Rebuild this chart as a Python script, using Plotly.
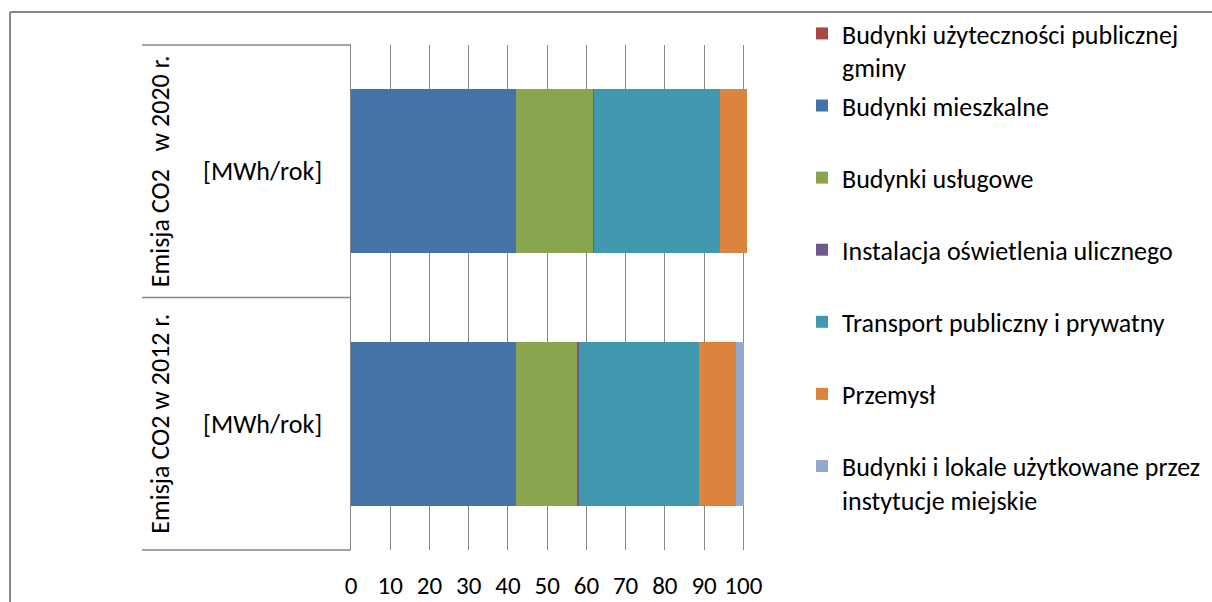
import plotly.graph_objects as go

categories = ["Emisja CO2 w 2012 r.", "Emisja CO2 \u00a0 w 2020 r."]
inner_labels = ["[MWh/rok]", "[MWh/rok]"]

series_names = [
    "Budynki użyteczności publicznej<br>gminy",
    "Budynki mieszkalne",
    "Budynki usługowe",
    "Instalacja oświetlenia ulicznego",
    "Transport publiczny i prywatny",
    "Przemysł",
    "Budynki i lokale użytkowane przez<br>instytucje miejskie",
]
series_colors = ["#AA4643", "#4572A7", "#89A54E", "#71588F", "#4198AF", "#DB843D", "#93A9CF"]
# values for [2012, 2020]
series_values = [
    [0.0, 0.0],
    [42.1, 42.1],
    [15.6, 19.6],
    [0.4, 0.3],
    [30.6, 32.1],
    [9.4, 6.9],
    [2.1, 0.0],
]
tick_vals = [0, 10, 20, 30, 40, 50, 60, 70, 80, 90, 100]

FONT = "Carlito, Calibri, Lato, sans-serif"
FS = 26

fig = go.Figure()
for i, (name, col, vals) in enumerate(zip(series_names, series_colors, series_values)):
    label = name if "<br>" in name else name + "<br>\u00a0"
    fig.add_trace(go.Bar(
        y=categories, x=vals, name=label, orientation="h",
        marker=dict(color=col, line=dict(width=0)),
        legendgroup="g%d" % i,
    ))

W, H = 1212, 602
L, R, T, B = 351, 464, 45, 52
pw, ph = W - L - R, H - T - B

def px(x):
    return (x - L) / pw

def py(y):
    return 1 - (y - T) / ph

shapes = []
for yy in [0, 0.5, 1]:
    shapes.append(dict(type="line", xref="paper", yref="paper", x0=px(142), x1=0, y0=yy, y1=yy,
                       line=dict(color="#868686", width=1.3)))
shapes.append(dict(type="line", xref="paper", yref="paper", x0=px(10), x1=px(1215), y0=py(12), y1=py(12),
                   line=dict(color="#868686", width=2)))
shapes.append(dict(type="line", xref="paper", yref="paper", x0=px(10), x1=px(10), y0=py(12), y1=py(605),
                   line=dict(color="#868686", width=2)))

annotations = []
for cat, n in zip(categories, inner_labels):
    annotations.append(dict(x=px(160), xref="paper", y=cat, yref="y", text=cat, textangle=-90,
                            xanchor="center", yanchor="middle",
                            showarrow=False, font=dict(family=FONT, size=FS, color="#000")))
    annotations.append(dict(x=px(262), xref="paper", y=cat, yref="y", text=n,
                            xanchor="center", yanchor="middle",
                            showarrow=False, font=dict(family=FONT, size=FS, color="#000")))

fig.update_layout(
    barmode="stack", bargap=0.35,
    width=W, height=H,
    margin=dict(l=L, r=R, t=T, b=B, autoexpand=False),
    paper_bgcolor="white", plot_bgcolor="white",
    font=dict(family=FONT, size=FS, color="#000"),
    xaxis=dict(range=[0, 101.2], tickvals=tick_vals, showgrid=True, gridcolor="#868686", gridwidth=1.3,
               zeroline=False, showline=False, ticks="", ticklabelstandoff=18,
               tickfont=dict(family=FONT, size=25, color="#000")),
    yaxis=dict(type="category", showticklabels=False, showgrid=False, zeroline=False,
               showline=True, linecolor="#868686", linewidth=1.3, ticks=""),
    legend=dict(xref="container", yref="container", x=802 / W, y=1 - 10 / H, xanchor="left", yanchor="top",
                valign="top", tracegroupgap=1.5, traceorder="grouped", maxheight=600,
                font=dict(family=FONT, size=FS, color="#000"), bgcolor="rgba(0,0,0,0)"),
    shapes=shapes, annotations=annotations, showlegend=True,
)

fig.write_html("out.html", config={"displayModeBar": False},
               post_script="document.body.style.margin='0';")
